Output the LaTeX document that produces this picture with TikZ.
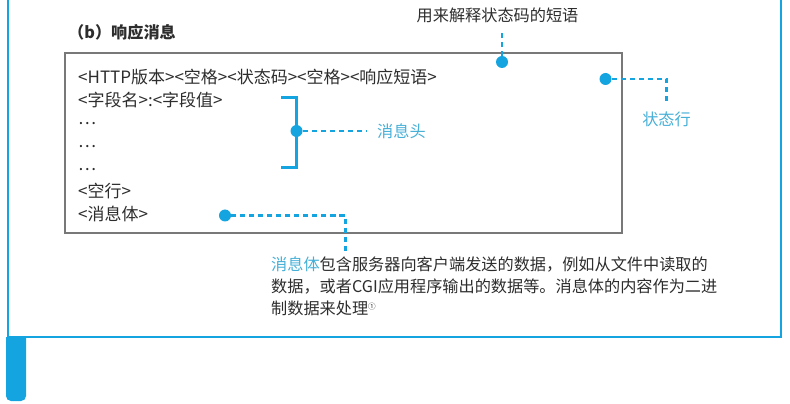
\documentclass[tikz,border=0pt]{standalone}
\usepackage{fontspec}
\setmainfont{Noto Sans CJK SC}
\definecolor{framecyan}{RGB}{20,165,225}
\definecolor{notecyan}{RGB}{70,175,215}
\definecolor{inkgray}{RGB}{45,45,45}
\definecolor{boxgray}{RGB}{120,120,120}

\begin{document}
\begin{tikzpicture}[x=0.03cm, y=-0.03cm,
  field/.style={anchor=base west, inner sep=0pt, text=inkgray, font=\fontsize{14.5pt}{18.4pt}\selectfont},
  note/.style={inner sep=0pt, text=notecyan, font=\fontsize{13.8pt}{18.4pt}\selectfont},
  bluedot/.style={circle, fill=framecyan, inner sep=0pt, minimum size=0.36cm},
  leadline/.style={draw=framecyan, line width=2pt, dash pattern=on 4.3pt off 3.4pt, shorten >=0.3cm}]
  \useasboundingbox (0,0) rectangle (790,404);

  % outer frame and tab
  \draw[framecyan, line width=2.2pt] (8,-5) -- (8,337) -- (781,337) -- (781,-5);
  \fill[framecyan] (6,337) [rounded corners=0.15cm] -- (6,401) -- (26,401) [sharp corners] -- (26,337) -- cycle;

  \node[anchor=base west, inner sep=0pt, text=inkgray, font=\fontsize{13.8pt}{18.4pt}\selectfont\bfseries] (title) at (68,39) {（b）响应消息};

  % message box
  \draw[boxgray, line width=1.8pt] (65,53) rectangle (622,233);
  \node[field] (statusline) at (78,84) {<HTTP版本><空格><状态码><空格><响应短语>};
  \node[field] (hdrline) at (78,106.8) {<字段名>:<字段值>};
  \node[field] (dotsa) at (78,124.8) {…};
  \node[field] (dotsb) at (78,147.6) {…};
  \node[field] (dotsc) at (78,170.4) {…};
  \node[field] (blankline) at (78,198) {<空行>};
  \node[field] (bodyline) at (78,220.8) {<消息体>};

  % header bracket
  \draw[framecyan, line width=2pt] (281,97.5) -- (296.5,97.5) -- (296.5,167.5) -- (281,167.5);
  \node[bluedot] (hdrdot) at (296.5,131) {};
  \node[note, anchor=west] (hdr) at (377,131) {消息头};
  \draw[leadline] (hdrdot) -- (hdr);

  % reason phrase
  \node[bluedot] (phrasedot) at (502,62) {};
  \node[inner sep=0pt, text=inkgray, font=\fontsize{13.8pt}{18.4pt}\selectfont] (phrase) at (497.5,15) {用来解释状态码的短语};
  \draw[leadline, shorten >=0.18cm] (phrasedot) -- (phrasedot |- phrase.south);

  % status line
  \node[bluedot] (statdot) at (605.5,79) {};
  \node[note] (stat) at (666.5,119) {状态行};
  \draw[leadline] (statdot) -| (stat);

  % message body
  \node[bluedot] (bodydot) at (225,215.5) {};
  \coordinate (bodyend) at (345.5,251);
  \draw[leadline, shorten >=0pt] (bodydot) -| (bodyend);
  \node[anchor=base west, inner sep=0pt, align=left, text=inkgray, font=\fontsize{13.8pt}{18.4pt}\selectfont] (bodytext) at (271,314)
    {\textcolor{notecyan}{消息体}包含服务器向客户端发送的数据，例如从文件中读取的\\
     数据，或者CGI应用程序输出的数据等。消息体的内容作为二进\\
     制数据来处理{\fontsize{6.5pt}{6.5pt}\selectfont\raisebox{0.55em}{①}}};
\end{tikzpicture}
\end{document}
